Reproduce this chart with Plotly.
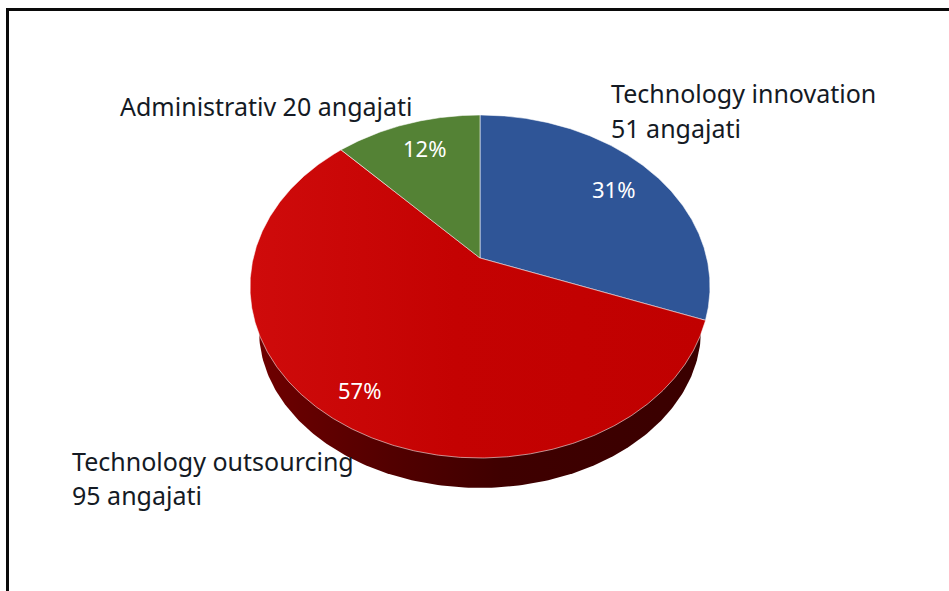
import numpy as np
import plotly.graph_objects as go

W, H = 949, 591

categories = ["Technology innovation", "Technology outsourcing", "Administrativ"]
employees = [51, 95, 20]
slice_colors = ["#2f5597", "#c00000", "#548235"]
label_lines = [
    ["Technology innovation", "51 angajati"],
    ["Technology outsourcing", "95 angajati"],
    ["Administrativ 20 angajati"],
]
label_pos = [
    [(609, 93), (609, 128)],
    [(70, 461), (70, 495)],
    [(118, 106)],
]
pct_pos = [(613, 189), (359, 390), (424, 148)]

# Pixel geometry of the tilted pie
CX, CY, RX, RY = 480.0, 286.5, 230.0, 171.5
TILT = (258.0 - CY) / RY  # apex offset, caused by the perspective
BX, BCY, BRY = 221.0, 330.0, 158.0  # lower rim


def project(theta):
    """Angle clockwise from 12 o'clock -> pixel position on the tilted disc."""
    x, y = np.sin(theta), -np.cos(theta)
    d = 1 + TILT * y
    return CX + RX * x * np.sqrt(1 - TILT**2) / d, CY + RY * (y + TILT) / d


fig = go.Figure()

t = np.linspace(0, 2 * np.pi, 361)
fig.add_trace(go.Scatter(
    x=CX + BX * np.cos(t), y=BCY + BRY * np.sin(t), mode="lines", fill="toself",
    line=dict(width=0), hoverinfo="skip", showlegend=False,
    fillgradient=dict(type="horizontal", colorscale=[
        [0, "#6e0000"], [0.3, "#520000"], [0.55, "#3f0000"], [1, "#3a0000"]]),
))

total = sum(employees)
start = 0.0
for i, value in enumerate(employees):
    end = start + value / total * 2 * np.pi
    a = np.linspace(start, end, max(int(value * 6), 40))
    px, py = project(a)
    xs = np.r_[CX, px, CX]
    ys = np.r_[CY + RY * TILT, py, CY + RY * TILT]
    kw = dict(fillcolor=slice_colors[i])
    if i == 1:
        kw = dict(fillgradient=dict(type="horizontal", colorscale=[
            [0, "#cf0b0b"], [0.45, "#c40202"], [1, "#c00000"]]))
    fig.add_trace(go.Scatter(
        x=xs, y=ys, mode="lines", fill="toself", name=categories[i],
        line=dict(width=1, color="rgba(255,255,255,0.55)"),
        hoverinfo="name", showlegend=False, **kw,
    ))
    start = end

ann = []
FONT = "Noto Sans"
for lines, pos in zip(label_lines, label_pos):
    for text, (lx, ly) in zip(lines, pos):
        ann.append(dict(x=lx, y=ly, xref="x", yref="y", text=text, showarrow=False,
                        xanchor="left", yanchor="middle",
                        font=dict(family=FONT, size=25, color="#141a24")))
for value, (lx, ly) in zip(employees, pct_pos):
    ann.append(dict(x=lx, y=ly, xref="x", yref="y", text=f"{round(100 * value / total)}%",
                    showarrow=False, xanchor="center", yanchor="middle",
                    font=dict(family=FONT, size=22, color="#ffffff")))

frame = dict(color="#0a0a0a", width=3)
shapes = [
    dict(type="line", xref="x", yref="y", x0=6, x1=W, y0=9.5, y1=9.5, line=frame),
    dict(type="line", xref="x", yref="y", x0=7.5, x1=7.5, y0=8, y1=H, line=frame),
]

fig.update_layout(
    width=W, height=H, margin=dict(l=0, r=0, t=0, b=0),
    paper_bgcolor="white", plot_bgcolor="white",
    xaxis=dict(range=[0, W], visible=False, fixedrange=True),
    yaxis=dict(range=[H, 0], visible=False, fixedrange=True),
    annotations=ann, shapes=shapes,
)
fig.write_html("out.html", post_script="document.body.style.margin='0';", config=dict(displayModeBar=False))
